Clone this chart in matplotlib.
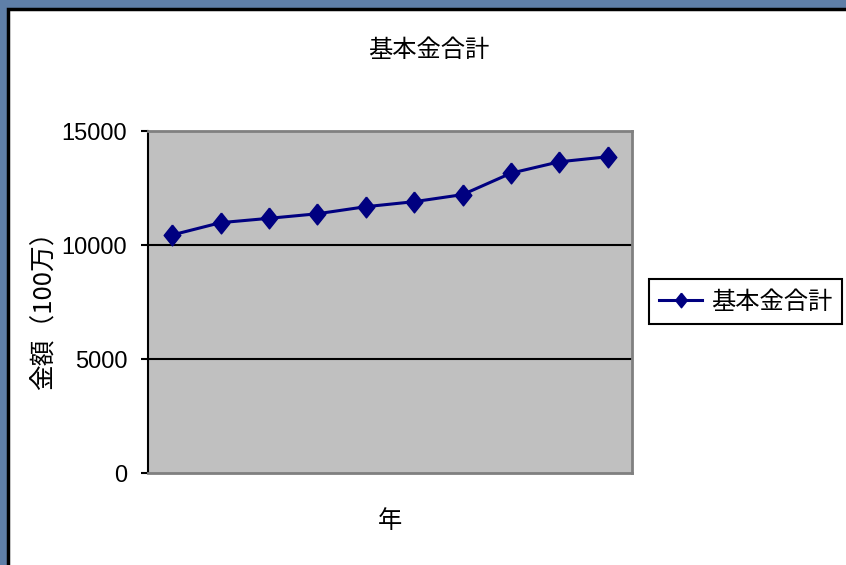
import matplotlib
matplotlib.use('Agg')
import matplotlib.pyplot as plt
from matplotlib.patches import Rectangle

# data
years = list(range(1, 11))
totals = [10440, 10980, 11170, 11370, 11680, 11900, 12210, 13150, 13650, 13870]
series_name = '基本金合計'
y_ticks = [0, 5000, 10000, 15000]

jp = ['Noto Sans CJK JP', 'DejaVu Sans']
num = ['Liberation Sans', 'DejaVu Sans']

W, H = 846, 565
fig = plt.figure(figsize=(W / 100, H / 100), dpi=100, facecolor='#5f7fa8')

# white chart area with black frame
fig.patches.append(Rectangle((8 / W, -0.05), 1.2, (H - 9) / H + 0.05,
                             transform=fig.transFigure, facecolor='white',
                             edgecolor='black', linewidth=2.5, zorder=-5))

ax = fig.add_axes([148 / W, 1 - 473 / H, (632 - 148) / W, (473 - 131) / H])
ax.set_facecolor('#c0c0c0')

diamond = [(0, 1), (0.8, 0), (0, -1), (-0.8, 0), (0, 1)]
x = list(range(len(years)))
ax.plot(x, totals, color='#000080', linewidth=2.2, marker=diamond,
        markersize=15, label=series_name, zorder=3)

ax.set_xlim(-0.5, len(years) - 0.5)
ax.set_ylim(0, 15000)
ax.set_xticks([])
ax.set_yticks(y_ticks)
ax.set_yticklabels([str(v) for v in y_ticks], fontfamily=num, fontsize=17)
ax.tick_params(axis='y', direction='out', length=5, width=1.5, pad=10, colors='black')

for v in y_ticks[1:-1]:
    ax.axhline(v, color='black', linewidth=1.5, zorder=2)

ax.spines['left'].set_color('black')
ax.spines['left'].set_linewidth(1.5)
for s in ['top', 'right', 'bottom']:
    ax.spines[s].set_color('#808080')
    ax.spines[s].set_linewidth(2)

fig.text(429 / W, 1 - 50 / H, series_name, ha='center', va='center',
         fontfamily=jp, fontsize=17.5)
fig.text(390 / W, 1 - 521 / H, '年', ha='center', va='center',
         fontfamily=jp, fontsize=17.5)
fig.text(45 / W, 1 - 304 / H, '金額（100万）', ha='center', va='center',
         rotation=90, fontfamily=jp, fontsize=18.5)

leg = ax.legend(loc='upper left', bbox_to_anchor=(649 / W, 1 - 279 / H),
                bbox_transform=fig.transFigure, borderaxespad=0,
                fancybox=False, edgecolor='black', framealpha=1,
                prop={'family': jp, 'size': 17.5}, handlelength=1.8,
                handletextpad=0.35, borderpad=0.4, markerscale=0.7)
leg.get_frame().set_linewidth(1.5)

fig.savefig('out.png', dpi=100, facecolor=fig.get_facecolor())
